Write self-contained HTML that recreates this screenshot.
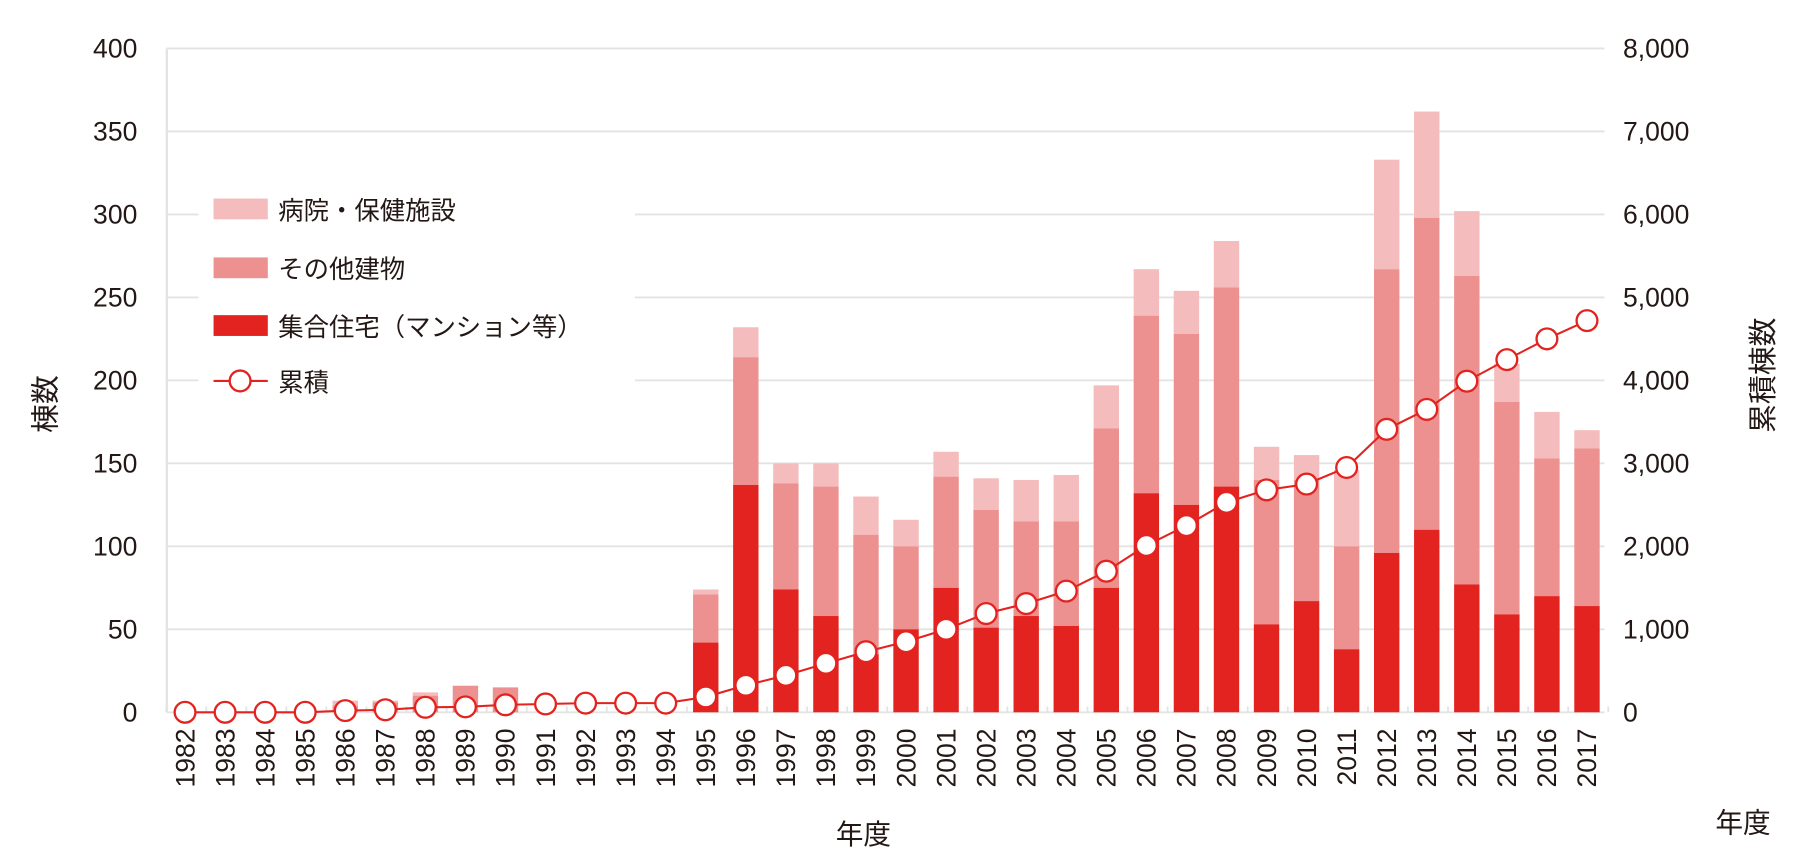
<!DOCTYPE html>
<html><head><meta charset="utf-8">
<style>
html,body{margin:0;padding:0;background:#fff;}
svg{display:block;}
text{font-family:"Liberation Sans","Noto Sans CJK JP",sans-serif;fill:#231815;}
</style></head>
<body>
<svg id="c" width="1810" height="856" viewBox="0 0 1568 741.5" preserveAspectRatio="none" xmlns="http://www.w3.org/2000/svg"></svg>
<script>
const svg=document.getElementById('c');
let h='';
const y0=617, k=575/400, left=144.5, right=1390, x0=160.3, slot=34.7, bw=22;
for(let i=0;i<=8;i++){
  const y=y0-i*50*k;
  h+=`<line x1="${left}" x2="${right}" y1="${y}" y2="${y}" stroke="#e3e3e3" stroke-width="1.6"/>`;
  h+=`<text x="119" y="${y+8}" font-size="23" text-anchor="end">${i*50}</text>`;
  const r=i*1000; const rs=r>=1000?Math.floor(r/1000)+','+'000':'0';
  h+=`<text x="1406" y="${y+8}" font-size="23">${rs}</text>`;
}
h+=`<line x1="${left}" x2="${left}" y1="${y0-400*k}" y2="${y0}" stroke="#e3e3e3" stroke-width="2"/>`;
for(let i=0;i<=36;i++){const x=left+i*slot-0.5;h+=`<line x1="${x}" x2="${x}" y1="${y0-5}" y2="${y0}" stroke="#e3e3e3" stroke-width="1.5"/>`;}
h+=`<rect x="172" y="160" width="378" height="190" fill="#fff"/>`;
const years=[];for(let y=1982;y<=2017;y++)years.push(y);
const data={1986:[0,4,7],1987:[0,6,7],1988:[0,10,12],1989:[0,16,16],1990:[0,15,15],
1995:[42,71,74],1996:[137,214,232],1997:[74,138,150],1998:[58,136,150],1999:[35,107,130],
2000:[50,100,116],2001:[75,142,157],2002:[51,122,141],2003:[58,115,140],2004:[52,115,143],
2005:[75,171,197],2006:[132,239,267],2007:[125,228,254],2008:[136,256,284],2009:[53,140,160],
2010:[67,140,155],2011:[38,100,146],2012:[96,267,333],2013:[110,298,362],2014:[77,263,302],
2015:[59,187,210],2016:[70,153,181],2017:[64,159,170]};
const cum=[0,0,0,0,20,30,60,65,90,100,110,110,110,185,325,445,590,730,850,1000,1190,1310,1460,1700,2010,2250,2530,2680,2750,2950,3410,3650,3990,4250,4500,4720];
years.forEach((yr,i)=>{
  const cx=x0+i*slot;
  const d=data[yr];
  if(d){
    const [a,b,c]=d;
    h+=`<rect x="${cx-bw/2}" y="${y0-c*k}" width="${bw}" height="${(c-b)*k}" fill="#f4bcbc"/>`;
    h+=`<rect x="${cx-bw/2}" y="${y0-b*k}" width="${bw}" height="${(b-a)*k}" fill="#ec9190"/>`;
    h+=`<rect x="${cx-bw/2}" y="${y0-a*k}" width="${bw}" height="${a*k}" fill="#e3231f"/>`;
  }
  h+=`<text transform="translate(${cx+8},631) rotate(-90)" font-size="23" text-anchor="end">${yr}</text>`;
});
let pts=cum.map((v,i)=>`${x0+i*slot},${y0-v*575/8000}`).join(' ');
h+=`<polyline points="${pts}" fill="none" stroke="#e3231f" stroke-width="1.8"/>`;
cum.forEach((v,i)=>{h+=`<circle cx="${x0+i*slot}" cy="${y0-v*575/8000}" r="9" fill="#fff" stroke="#e3231f" stroke-width="2"/>`;});
h+=`<rect x="185" y="172" width="47" height="18" fill="#f4bcbc"/><text x="241" y="190" font-size="22">病院・保健施設</text>`;
h+=`<rect x="185" y="223" width="47" height="18" fill="#ec9190"/><text x="241" y="241" font-size="22">その他建物</text>`;
h+=`<rect x="185" y="273" width="47" height="18" fill="#e3231f"/><text x="241" y="291" font-size="22">集合住宅（マンション等）</text>`;
h+=`<line x1="185" x2="232" y1="330" y2="330" stroke="#e3231f" stroke-width="1.8"/><circle cx="208" cy="330" r="9" fill="#fff" stroke="#e3231f" stroke-width="2"/><text x="241" y="339" font-size="22">累積</text>`;
h+=`<text transform="translate(48,350) rotate(-90)" font-size="25" text-anchor="middle">棟数</text>`;
h+=`<text transform="translate(1536,325) rotate(-90)" font-size="25" text-anchor="middle">累積棟数</text>`;
h+=`<text x="748" y="731" font-size="24" text-anchor="middle">年度</text>`;
h+=`<text x="1510" y="721" font-size="24" text-anchor="middle">年度</text>`;
svg.innerHTML=h;
</script>
</body></html>
